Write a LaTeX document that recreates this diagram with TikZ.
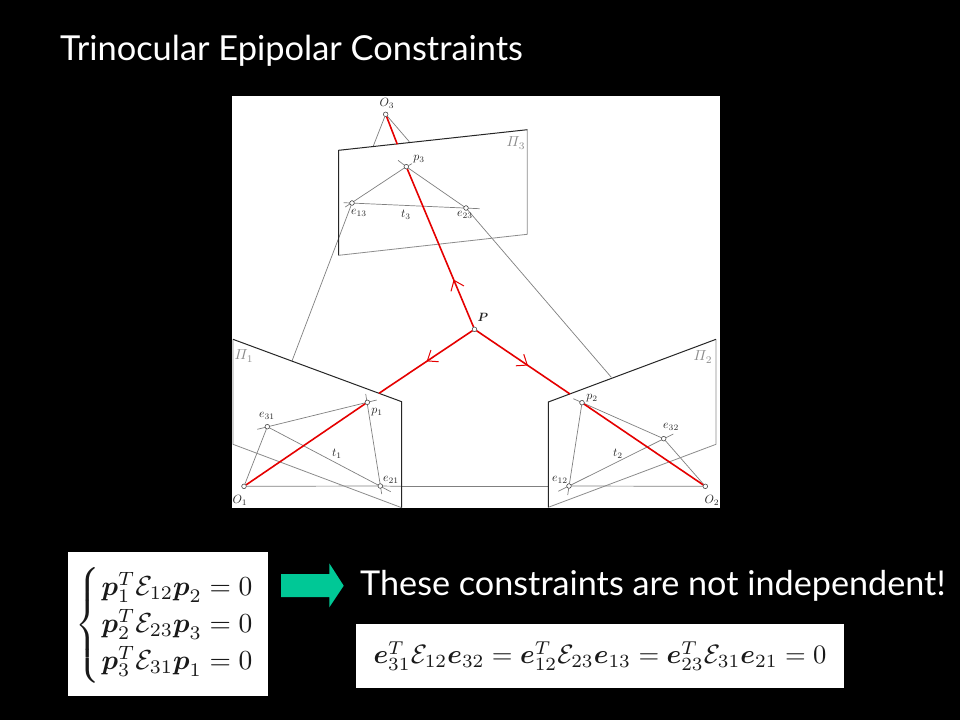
\documentclass[tikz,border=0pt]{standalone}
\usepackage{amsmath,amssymb,graphicx}
\usepackage{fontspec}
\setmainfont{Lato}
\usetikzlibrary{arrows.meta,decorations.markings}
\tikzset{
  thinline/.style={draw=black!50,line width=0.7pt},
  lightedge/.style={draw=black!45,line width=0.8pt},
  darkedge/.style={draw=black!85,line width=1pt},
  rayline/.style={draw=red!90!black,line width=1.6pt},
  pt/.style={circle,draw=black!70,fill=white,line width=0.5pt,inner sep=0pt,minimum size=4.5pt},
  lab/.style={inner sep=0pt,text=black!85},
  pilab/.style={inner sep=0pt,text=black!45},
  titletext/.style={text=white,anchor=base west,inner sep=0pt},
  panel/.style={fill=white,draw=none,inner sep=0pt},
  rayarrow/.style={postaction={decorate,decoration={markings,mark=at position #1 with {\arrow{Straight Barb[length=9pt,width=14pt,line width=1pt]}}}}}
}
\newcommand{\labsc}[1]{\scalebox{1.2}{$#1$}}
\newcommand{\pisc}[1]{\scalebox{1.45}{$\varPi_{#1}$}}
\begin{document}
\begin{tikzpicture}[x=1pt,y=-1pt]
\useasboundingbox (0,0) rectangle (960,720);
\fill[black] (0,0) rectangle (960,720);
\node[titletext,font=\fontsize{34.4}{40}\selectfont] (title) at (60,60) {Trinocular Epipolar Constraints};
% diagram panel
\fill[white] (232,96) rectangle (720,508);
% named corners
\coordinate (A1) at (338.7,150.3); \coordinate (A2) at (527.3,129.7);
\coordinate (A3) at (527.3,234.3); \coordinate (A4) at (338.7,255.3);
\coordinate (B1) at (233,339.3); \coordinate (B2) at (401.7,401.7);
\coordinate (B3) at (401.7,507.7); \coordinate (B4) at (233,444.3);
\coordinate (C1) at (548.3,402); \coordinate (C2) at (716,339.3);
\coordinate (C3) at (716,444.3); \coordinate (C4) at (548.3,507.3);
% nodes
\node[pt] (O3) at (385.7,114.3) {};
\node[pt] (p3) at (406.3,166.7) {};
\node[pt] (e13) at (352,203) {};
\node[pt] (e23) at (466,208) {};
\node[pt] (P) at (474.5,329.3) {};
\node[pt] (O1) at (244,486.3) {};
\node[pt] (p1) at (367.3,402.3) {};
\node[pt] (e31) at (267.3,426.7) {};
\node[pt] (e21) at (380.3,486) {};
\node[pt] (O2) at (705.3,486.3) {};
\node[pt] (p2) at (582,402.7) {};
\node[pt] (e32) at (663.7,438.7) {};
\node[pt] (e12) at (569,486) {};
% free ends
\coordinate (o3a) at (373.3,146); \coordinate (o3b) at (409.3,141.7); \coordinate (o3r) at (397.3,144.3);
\coordinate (t3a) at (343.7,202.7); \coordinate (t3b) at (479.7,208.7);
\coordinate (p3a) at (398,160.3); \coordinate (p3b) at (412,163.7);
\coordinate (e13a) at (345.3,207);
\coordinate (d1) at (292,361); \coordinate (d2) at (611.3,377.3);
\coordinate (r1) at (379,393.3); \coordinate (r2) at (570,394);
\coordinate (e31a) at (257.3,429.3); \coordinate (p1a) at (376.7,400);
\coordinate (t1b) at (390.7,491.7); \coordinate (p1b) at (365.7,394); \coordinate (e21b) at (381.7,494);
\coordinate (l1) at (401.7,486.3); \coordinate (l2) at (548.3,486.3);
\coordinate (e12b) at (567.7,495); \coordinate (t2a) at (558.3,491.3); \coordinate (t2b) at (673.3,434);
\coordinate (p2a) at (573.3,398.7);
% construction lines
\draw[thinline] (O3) -- (o3a);
\draw[thinline] (O3) -- (o3b);
\draw[thinline] (t3a) -- (t3b);
\draw[thinline] (e13a) -- (p3) -- (p3b);
\draw[thinline] (p3a) -- (p3) -- (e23);
\draw[thinline] (e13) -- (d1);
\draw[thinline] (e23) -- (d2);
\draw[thinline] (O1) -- (e31);
\draw[thinline] (e31a) -- (p1a);
\draw[thinline] (e31) -- (t1b);
\draw[thinline] (p1b) -- (e21b);
\draw[thinline] (O1) -- (e21);
\draw[thinline] (e21) -- (l1);
\draw[thinline] (l1) -- (l2);
\draw[thinline] (e12) -- (O2);
\draw[thinline] (e12b) -- (p2);
\draw[thinline] (t2a) -- (t2b);
\draw[thinline] (p2a) -- (e32);
\draw[thinline] (e32) -- (O2);
% image planes
\draw[lightedge] (A2) -- (A3) -- (A4);
\draw[darkedge] (A4) -- (A1) -- (A2);
\draw[lightedge] (B1) -- (B4) -- (B3);
\draw[darkedge] (B1) -- (B2) -- (B3);
\draw[lightedge] (C2) -- (C3) -- (C4);
\draw[darkedge] (C4) -- (C1) -- (C2);
% rays
\draw[rayline] (O3) -- (o3r);
\draw[rayline,rayarrow=0.3] (P) -- (p3);
\draw[rayline,rayarrow=0.49] (P) -- (r1);
\draw[rayline,rayarrow=0.55] (P) -- (r2);
\draw[rayline] (O1) -- (p1);
\draw[rayline] (p2) -- (O2);
% redraw markers over all lines
\foreach \n in {O3,p3,e13,e23,P,O1,p1,e31,e21,O2,p2,e32,e12}{\node[pt] at (\n) {};}
% labels
\node[lab] (lO3) at (387,103) {\labsc{O_3}};
\node[lab] (lp3) at (419,159) {\labsc{p_3}};
\node[lab] (le13) at (359,213) {\labsc{e_{13}}};
\node[lab] (lt3) at (406,215) {\labsc{t_3}};
\node[lab] (le23) at (465,215) {\labsc{e_{23}}};
\node[pilab] (lpi3) at (516,143) {\pisc{3}};
\node[lab] (lP) at (483,317) {\labsc{\boldsymbol{P}}};
\node[pilab] (lpi1) at (244,356) {\pisc{1}};
\node[lab] (lp1) at (377,412) {\labsc{p_1}};
\node[lab] (le31) at (267,416) {\labsc{e_{31}}};
\node[lab] (lt1) at (337,454) {\labsc{t_1}};
\node[lab] (le21) at (391,480) {\labsc{e_{21}}};
\node[lab] (lO1) at (240,500) {\labsc{O_1}};
\node[pilab] (lpi2) at (703,357) {\pisc{2}};
\node[lab] (lp2) at (592,398) {\labsc{p_2}};
\node[lab] (le32) at (671,427) {\labsc{e_{32}}};
\node[lab] (lt2) at (618,454) {\labsc{t_2}};
\node[lab] (le12) at (560,480) {\labsc{e_{12}}};
\node[lab] (lO2) at (712,500) {\labsc{O_2}};
% lower part
\node[panel,minimum width=200pt,minimum height=144pt] (eqpanel) at (168,624) {};
\node[inner sep=0pt,text=black!90,anchor=east] (eqs) at (256,625) {\scalebox{2.75}{$\left\{\renewcommand{\arraystretch}{1.12}\begin{array}{@{\hspace{0.5pt}}l@{}}
\boldsymbol{p}_1^T\mathcal{E}_{12}\boldsymbol{p}_2=0\\
\boldsymbol{p}_2^T\mathcal{E}_{23}\boldsymbol{p}_3=0\\
\boldsymbol{p}_3^T\mathcal{E}_{31}\boldsymbol{p}_1=0
\end{array}\right.$}};
\fill[fill={rgb,255:red,0;green,200;blue,150}] (281,574) -- (329.3,574) -- (329.3,563.3) -- (343.7,585.7) -- (329.3,607.3) -- (329.3,597) -- (281,597) -- cycle;
\node[titletext,font=\fontsize{34.2}{40}\selectfont] (indep) at (360,595) {These constraints are not independent!};
\node[panel,minimum width=488pt,minimum height=64pt] (eqpanel2) at (600,656) {};
\node[inner sep=0pt,text=black!90] (eq2) at (600,656) {\scalebox{2.66}{$\boldsymbol{e}_{31}^T\mathcal{E}_{12}\boldsymbol{e}_{32}=\boldsymbol{e}_{12}^T\mathcal{E}_{23}\boldsymbol{e}_{13}=\boldsymbol{e}_{23}^T\mathcal{E}_{31}\boldsymbol{e}_{21}=0$}};
\end{tikzpicture}
\end{document}
